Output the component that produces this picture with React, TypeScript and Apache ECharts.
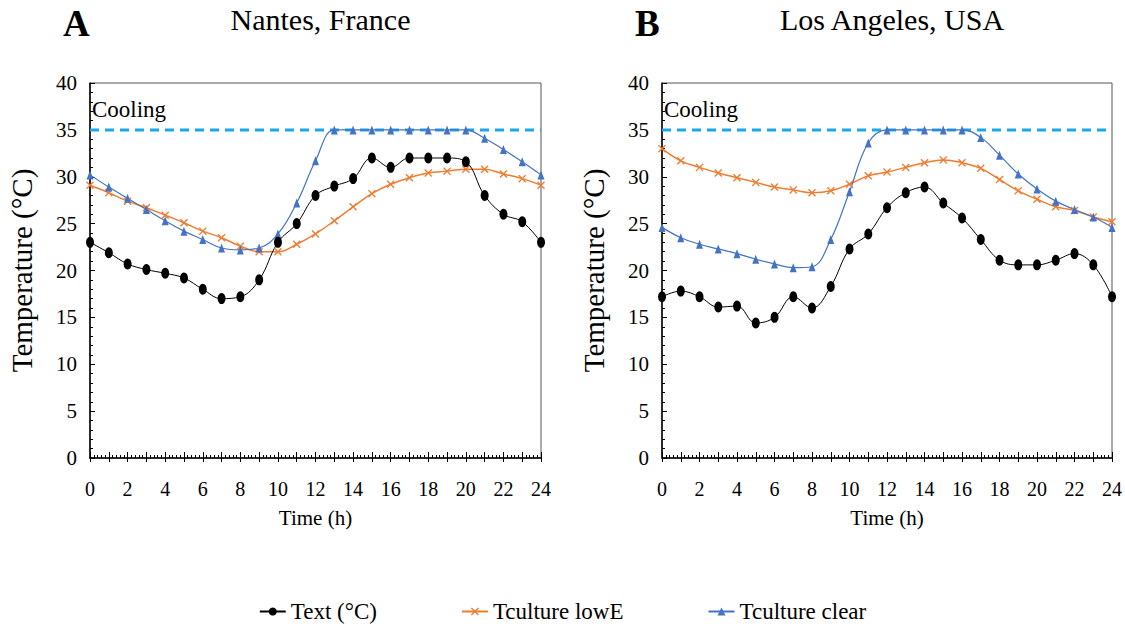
import React, { useEffect, useRef } from "react";
import * as echarts from "echarts";

const hours = [0,1,2,3,4,5,6,7,8,9,10,11,12,13,14,15,16,17,18,19,20,21,22,23,24];

const nantesText = [23.0,21.9,20.7,20.1,19.7,19.2,18.0,17.0,17.2,19.0,23.0,25.0,28.0,29.0,29.8,32.0,31.0,32.0,32.0,32.0,31.6,28.0,26.0,25.2,23.0];
const nantesLowE = [29.1,28.3,27.4,26.7,25.9,25.1,24.2,23.5,22.6,22.0,22.0,22.8,23.9,25.3,26.8,28.2,29.2,29.9,30.4,30.6,30.8,30.8,30.3,29.8,29.1];
const nantesClear = [30.2,28.9,27.7,26.5,25.3,24.2,23.3,22.4,22.2,22.4,23.9,27.2,31.7,35.0,35.0,35.0,35.0,35.0,35.0,35.0,35.0,34.1,32.9,31.6,30.2];

const laText = [17.2,17.8,17.2,16.1,16.2,14.4,15.0,17.2,16.0,18.3,22.3,23.9,26.7,28.3,28.9,27.2,25.6,23.3,21.1,20.6,20.6,21.1,21.8,20.6,17.2];
const laLowE = [33.0,31.7,31.0,30.4,29.9,29.4,28.9,28.6,28.3,28.5,29.2,30.1,30.5,31.0,31.5,31.8,31.5,30.9,29.7,28.5,27.6,26.8,26.4,25.7,25.2];
const laClear = [24.6,23.5,22.8,22.3,21.8,21.2,20.7,20.3,20.4,23.3,28.4,33.6,35.0,35.0,35.0,35.0,35.0,34.2,32.3,30.3,28.7,27.4,26.5,25.7,24.6];

const coolingLimit = 35;
const seriesNames = ["Text (°C)", "Tculture lowE", "Tculture clear"];
const panelTitles = ["Nantes, France", "Los Angeles, USA"];
const panelLetters = ["A", "B"];
const yTicks = [0, 40, 5];
const xRange = [0, 24];

const FONT = "'Liberation Serif', 'Times New Roman', serif";
const xMark = "path://M0,1.2L1.2,0L5,3.8L8.8,0L10,1.2L6.2,5L10,8.8L8.8,10L5,6.2L1.2,10L0,8.8L3.8,5Z";

export default function App() {
  const ref = useRef<HTMLDivElement>(null);
  useEffect(() => {
    if (!ref.current) return;
    const chart = echarts.init(ref.current, null, { renderer: "svg" });
    const grids = [
      { left: 90, right: 584, top: 83, bottom: 172 },
      { left: 662, right: 13, top: 83, bottom: 172 },
    ];
    const xAxes: any[] = [];
    const yAxes: any[] = [];
    grids.forEach((g, i) => {
      xAxes.push({
        type: "value", gridIndex: i, min: xRange[0], max: xRange[1], interval: 1,
        name: "Time (h)", nameLocation: "middle", nameGap: 49,
        nameTextStyle: { fontFamily: FONT, fontSize: 21, color: "#000" },
        axisLine: { lineStyle: { color: "#000", width: 1.5 } },
        axisTick: { show: true, inside: true, length: 6, lineStyle: { color: "#000" } },
        minorTick: { show: true, splitNumber: 5, length: 3, lineStyle: { color: "#000" } },
        splitLine: { show: false },
        axisLabel: {
          fontFamily: FONT, fontSize: 20, color: "#000", margin: 21,
          formatter: (v: number) => (v % 2 === 0 ? String(v) : ""),
        },
      });
      yAxes.push({
        type: "value", gridIndex: i, min: yTicks[0], max: yTicks[1], interval: yTicks[2],
        name: "Temperature (°C)", nameLocation: "middle", nameGap: 54,
        nameTextStyle: { fontFamily: FONT, fontSize: 29, color: "#000" },
        axisLine: { show: true, lineStyle: { color: "#000", width: 1.5 } },
        axisTick: { show: true, inside: true, length: 5, lineStyle: { color: "#000" } },
        minorTick: { show: true, splitNumber: 5, length: 3, lineStyle: { color: "#000" } },
        splitLine: { show: false },
        axisLabel: { fontFamily: FONT, fontSize: 21, color: "#000", margin: 13 },
      });
    });
    // outward major tick overlay
    grids.forEach((g, i) => {
      xAxes.push({
        type: "value", gridIndex: i, min: xRange[0], max: xRange[1], interval: 1,
        position: "bottom",
        axisLine: { show: false }, axisLabel: { show: false },
        axisTick: { show: true, inside: false, length: 4, lineStyle: { color: "#000" } },
        splitLine: { show: false },
      });
    });

    const datasets = [
      [nantesText, nantesLowE, nantesClear],
      [laText, laLowE, laClear],
    ];
    const series: any[] = [];
    datasets.forEach((d, i) => {
      const pair = (arr: number[]) => hours.map((h, k) => [h, arr[k]]);
      series.push({
        type: "line", name: "cooling" + i, xAxisIndex: i, yAxisIndex: i,
        data: [[xRange[0], coolingLimit], [xRange[1], coolingLimit]],
        symbol: "none", silent: true, z: 1,
        lineStyle: { color: "#1AA7EC", width: 3, type: [9, 6] },
      });
      series.push({
        type: "line", name: seriesNames[1], xAxisIndex: i, yAxisIndex: i,
        data: pair(d[1]), smooth: 0.4,
        symbol: xMark, symbolSize: 8,
        itemStyle: { color: "#ED7D31" },
        lineStyle: { color: "#ED7D31", width: 1.5 },
      });
      series.push({
        type: "line", name: seriesNames[2], xAxisIndex: i, yAxisIndex: i,
        data: pair(d[2]), smooth: 0.4,
        symbol: "triangle", symbolSize: [7, 9],
        itemStyle: { color: "#4472C4" },
        lineStyle: { color: "#4472C4", width: 1.2 },
      });
      series.push({
        type: "line", name: seriesNames[0], xAxisIndex: i, yAxisIndex: i,
        data: pair(d[0]), smooth: 0.4,
        symbol: "circle", symbolSize: [8, 11],
        itemStyle: { color: "#000" },
        lineStyle: { color: "#000", width: 1 },
      });
    });

    const graphic: any[] = [];
    [0, 1].forEach((i) => {
      const gLeft = grids[i].left;
      const gWidth = 1125 - grids[i].left - grids[i].right;
      graphic.push({
        type: "text", left: gLeft - 27, top: 5,
        style: { text: panelLetters[i], fontFamily: FONT, fontSize: 37, fontWeight: "bold", fill: "#000" },
      });
      graphic.push({
        type: "text", x: gLeft + gWidth / 2 + 5, y: 4,
        style: { text: panelTitles[i], fontFamily: FONT, fontSize: 30, fill: "#000", textAlign: "center" },
      });
      graphic.push({
        type: "text", x: gLeft + 2, y: 98,
        style: { text: "Cooling", fontFamily: FONT, fontSize: 23, fill: "#000" },
      });
    });

    chart.setOption({
      animation: false,
      backgroundColor: "#fff",
      grid: grids.map((g) => ({ ...g, show: true, borderColor: "#555", borderWidth: 1 })),
      xAxis: xAxes,
      yAxis: yAxes,
      legend: {
        data: seriesNames, bottom: 2, left: "center", itemGap: 84, itemWidth: 26, itemHeight: 10,
        textStyle: { fontFamily: FONT, fontSize: 23, color: "#000" },
      },
      series,
      graphic,
    });
    return () => chart.dispose();
  }, []);
  return <div ref={ref} style={{ width: 1125, height: 630, position: "absolute", left: 0, top: 0 }} />;
}
